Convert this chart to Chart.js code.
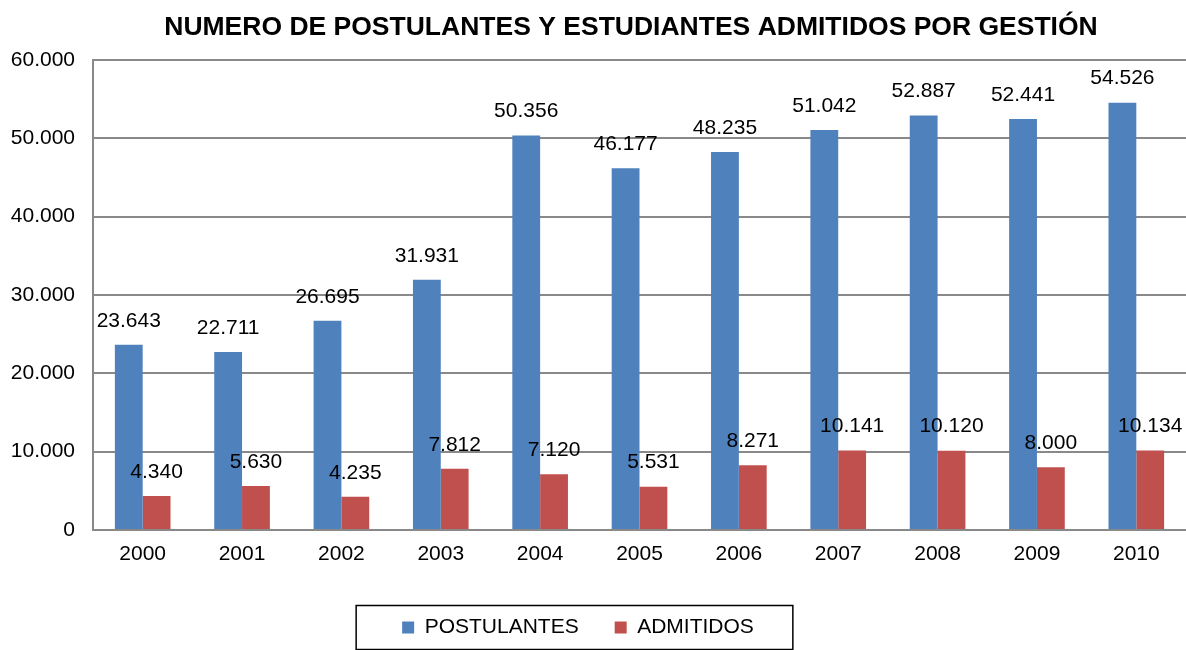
<!DOCTYPE html>
<html>
<head>
<meta charset="utf-8">
<script src="https://cdn.jsdelivr.net/npm/chart.js@4.4.1/dist/chart.umd.min.js"></script>
<style>
  html, body { margin: 0; padding: 0; background: #fff; }
  #wrap { width: 1186px; height: 650px; }
</style>
</head>
<body>
<div id="wrap"><canvas id="gpostulantes_data"></canvas></div>
<script>
var years = ['2000', '2001', '2002', '2003', '2004', '2005', '2006', '2007', '2008', '2009', '2010'];
var postulantes = [23643, 22711, 26695, 31931, 50356, 46177, 48235, 51042, 52887, 52441, 54526];
var admitidos = [4340, 5630, 4235, 7812, 7120, 5531, 8271, 10141, 10120, 8000, 10134];
var yTicks = [0, 10000, 20000, 30000, 40000, 50000, 60000];

var fuente = '"Liberation Sans", Arial, sans-serif';

function miles(v) {
    return String(v).replace(/\B(?=(\d{3})+(?!\d))/g, '.');
}

// etiquetas sobre cada barra
const valueLabels = {
    id: 'valueLabels',
    afterDatasetsDraw(chart) {
        const ctx = chart.ctx;
        ctx.save();
        ctx.font = '21px ' + fuente;
        ctx.fillStyle = '#000';
        ctx.textAlign = 'center';
        ctx.textBaseline = 'middle';
        chart.data.datasets.forEach(function(ds, i) {
            chart.getDatasetMeta(i).data.forEach(function(bar, j) {
                ctx.fillText(miles(ds.data[j]), bar.x, bar.y - 24);
            });
        });
        ctx.restore();
    }
};

// mover titulo y leyenda como en el original
const shiftBoxes = {
    id: 'shiftBoxes',
    afterLayout(chart) {
        if (chart.titleBlock) {
            chart.titleBlock.left += 38;
            chart.titleBlock.right += 38;
        }
        if (chart.legend) {
            chart.legend.left -= 15;
            chart.legend.right -= 15;
        }
    }
};

// marco de la leyenda
const legendFrame = {
    id: 'legendFrame',
    afterDraw(chart) {
        const hb = chart.legend.legendHitBoxes;
        if (!hb || !hb.length) return;
        var l = Math.min.apply(null, hb.map(function(h) { return h.left; }));
        var r = Math.max.apply(null, hb.map(function(h) { return h.left + h.width; }));
        var cy = hb[0].top + hb[0].height / 2;
        const ctx = chart.ctx;
        ctx.save();
        ctx.strokeStyle = '#000';
        ctx.lineWidth = 1.5;
        ctx.strokeRect(l - 46, cy - 22, (r - l) + 85, 44);
        ctx.restore();
    }
};

const dt = {
    labels: years,
    datasets: [
    {
        label: 'POSTULANTES',
        data: postulantes,
        backgroundColor: '#4F81BD',
        borderWidth: 0
    },
    {
        label: 'ADMITIDOS',
        data: admitidos,
        backgroundColor: '#C0504D',
        borderWidth: 0
    }
    ]
};

const config_postulantes = {
    type: 'bar',
    data: dt,
    options: {
        responsive: true,
        maintainAspectRatio: false,
        animation: false,
        layout: { padding: { left: 0, right: 0, top: 0, bottom: 2 } },
        datasets: { bar: { categoryPercentage: 0.56, barPercentage: 1 } },
        plugins: {
            title: {
                display: true,
                text: 'NUMERO DE POSTULANTES Y ESTUDIANTES ADMITIDOS POR GESTIÓN',
                color: '#000',
                font: { family: fuente, size: 26.5, weight: 'bold' },
                padding: { top: 12, bottom: 16 }
            },
            legend: {
                position: 'bottom',
                labels: {
                    color: '#000',
                    boxWidth: 12,
                    boxHeight: 12,
                    padding: 36,
                    font: { family: fuente, size: 21 }
                }
            },
            tooltip: { enabled: false }
        },
        scales: {
            x: {
                grid: { display: false, drawTicks: false },
                border: { color: '#898989', width: 2 },
                ticks: {
                    color: '#000',
                    padding: 12,
                    font: { family: fuente, size: 21 }
                },
                afterFit: function(scale) { scale.height = 51; }
            },
            y: {
                min: 0,
                max: 60000,
                afterBuildTicks: function(scale) {
                    scale.ticks = yTicks.map(function(v) { return { value: v }; });
                },
                grid: { color: '#898989', lineWidth: 2, drawTicks: false },
                border: { color: '#898989', width: 2 },
                ticks: {
                    color: '#000',
                    padding: 18,
                    font: { family: fuente, size: 21 },
                    callback: function(v) { return miles(v); }
                },
                afterFit: function(scale) { scale.width = 93; }
            }
        }
    },
    plugins: [valueLabels, shiftBoxes, legendFrame]
};

const gpostulantes_data = new Chart(
    document.getElementById('gpostulantes_data'),
    config_postulantes
);
</script>
</body>
</html>
